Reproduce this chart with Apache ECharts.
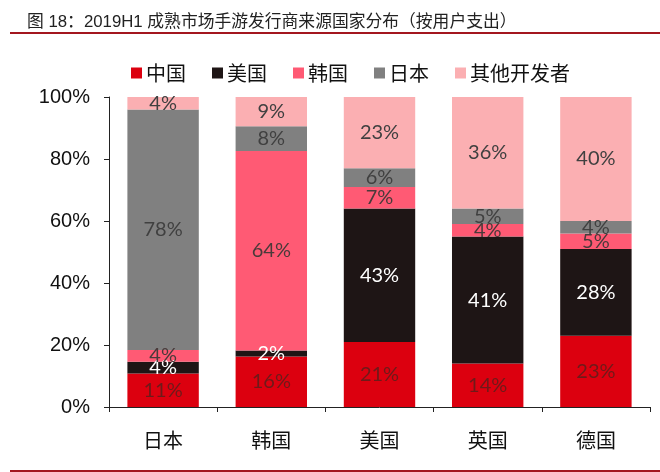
<!DOCTYPE html>
<html><head><meta charset="utf-8">
<script src="https://cdn.jsdelivr.net/npm/echarts@6/dist/echarts.min.js"></script>
<style>html,body{margin:0;padding:0;background:#fff}#c{width:660px;height:472px}</style>
</head><body><div id="c"></div>
<script>
const title = '图 18：2019H1 成熟市场手游发行商来源国家分布（按用户支出）';
const categories = ['日本', '韩国', '美国', '英国', '德国'];
const seriesNames = ['中国', '美国', '韩国', '日本', '其他开发者'];
const chinaVals = [10.8, 16.3, 21, 14, 23];
const usVals = [3.8, 1.9, 43, 41, 28];
const koreaVals = [3.8, 64.4, 7, 4, 5];
const japanVals = [77.6, 8.0, 6, 5, 4];
const otherVals = [4.0, 9.4, 23, 36, 40];
const yTicks = [0, 20, 40, 60, 80, 100];

const colors = ['#dc000f', '#1e1515', '#ff5a74', '#808080', '#fbafb2'];
const labelColors = ['#6e1a1a', '#ffffff', '#4a3a3a', '#404040', '#404040'];
const allVals = [chinaVals, usVals, koreaVals, japanVals, otherVals];
const cjk = '"Noto Sans CJK SC", sans-serif';

const chart = echarts.init(document.getElementById('c'), null, {renderer: 'canvas'});
chart.setOption({
  animation: false,
  backgroundColor: '#fff',
  title: {
    text: title, left: 22, top: 9,
    textStyle: {fontFamily: '"Liberation Sans", "Noto Sans CJK SC", sans-serif', fontSize: 16.8, fontWeight: 'normal', color: '#222'}
  },
  graphic: [
    {type: 'rect', shape: {x: 10, y: 32, width: 650, height: 2}, style: {fill: '#a3171f'}},
    {type: 'rect', shape: {x: 10, y: 470, width: 650, height: 2}, style: {fill: '#a3171f'}}
  ],
  legend: {
    top: 58, left: 126,
    itemWidth: 11, itemHeight: 11, itemGap: 26,
    icon: 'rect',
    textStyle: {fontFamily: cjk, fontSize: 20, color: '#111', padding: [0, 0, 0, -1]},
    data: seriesNames
  },
  grid: {left: 109, right: 10, top: 97, bottom: 65},
  xAxis: {
    type: 'category', data: categories,
    axisLine: {lineStyle: {color: '#222', width: 1}},
    axisTick: {show: true, length: 5, lineStyle: {color: '#222'}},
    axisLabel: {fontFamily: cjk, fontSize: 20, color: '#111', margin: 23}
  },
  yAxis: {
    type: 'value', min: yTicks[0], max: yTicks[yTicks.length - 1], interval: 20,
    axisLine: {show: true, lineStyle: {color: '#222', width: 1}},
    axisTick: {show: true, length: 5, lineStyle: {color: '#222'}},
    splitLine: {show: false},
    axisLabel: {fontFamily: '"Liberation Sans", Arial, sans-serif', fontSize: 20, color: '#111', margin: 19,
      formatter: v => v + '%'}
  },
  series: seriesNames.map((n, i) => ({
    name: n, type: 'bar', stack: 'total',
    data: allVals[i],
    barCategoryGap: '34%',
    itemStyle: {color: colors[i]},
    label: {
      show: true, position: 'inside',
      fontFamily: 'Lato, "Liberation Sans", sans-serif', fontSize: 20,
      color: labelColors[i],
      formatter: p => Math.round(p.value) + '%'
    }
  }))
});
</script></body></html>
